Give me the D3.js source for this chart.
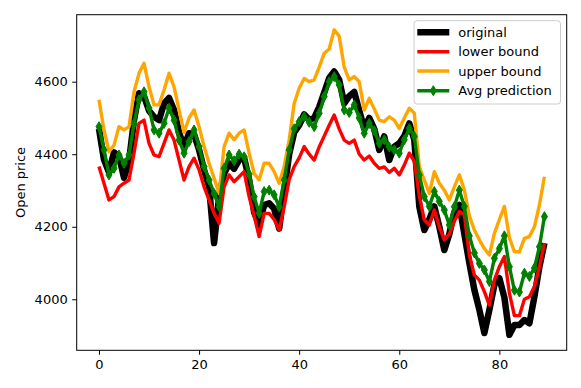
<!DOCTYPE html>
<html>
<head>
<meta charset="utf-8">
<script src="https://cdn.jsdelivr.net/npm/d3@7"></script>
<style>
  body { margin: 0; background: #fff; }
  svg { font-family: "DejaVu Sans", sans-serif; }
</style>
</head>
<body>
<div id="chart"></div>
<script>
// values, index 0..89
var original = [4470,4385,4350,4405,4395,4335,4380,4494,4568,4560,
  4520,4503,4494,4540,4555,4522,4460,4420,4458,4455,
  4412,4357,4310,4155,4283,4347,4375,4360,4384,4390,
  4330,4240,4205,4260,4265,4250,4195,4300,4400,4460,
  4480,4510,4495,4500,4530,4570,4610,4628,4605,4540,
  4560,4572,4520,4470,4500,4470,4412,4449,4384,4421,
  4430,4450,4485,4440,4256,4191,4220,4256,4200,4136,
  4180,4240,4260,4180,4100,4026,3971,3907,3971,4040,
  4058,4005,3902,3929,3929,3943,3934,4007,4090,4155];
var lower = [4366,4320,4274,4283,4310,4320,4329,4403,4485,4494,
  4430,4398,4393,4430,4467,4439,4384,4329,4366,4389,
  4357,4310,4274,4237,4210,4310,4343,4324,4338,4352,
  4283,4230,4173,4237,4237,4220,4191,4255,4330,4366,
  4390,4421,4400,4384,4420,4450,4480,4508,4470,4439,
  4430,4439,4400,4384,4395,4375,4361,4365,4350,4361,
  4343,4370,4403,4380,4285,4219,4205,4246,4200,4164,
  4180,4215,4242,4233,4122,4067,4053,4021,3984,4053,
  4090,4118,4017,3955,3955,4000,4007,4035,4090,4155];
var upper = [4550,4467,4407,4425,4476,4467,4476,4572,4623,4651,
  4586,4536,4536,4577,4623,4586,4522,4460,4500,4522,
  4476,4421,4375,4334,4292,4421,4458,4440,4458,4467,
  4403,4347,4329,4375,4375,4352,4320,4366,4439,4540,
  4582,4609,4600,4605,4640,4678,4690,4743,4725,4640,
  4605,4614,4600,4522,4554,4525,4494,4490,4503,4494,
  4471,4500,4527,4513,4366,4329,4292,4352,4320,4301,
  4274,4310,4343,4301,4230,4191,4164,4140,4122,4182,
  4220,4256,4170,4131,4131,4168,4173,4200,4260,4338];
var avg = [4476,4412,4343,4361,4398,4375,4398,4485,4550,4572,
  4527,4467,4458,4485,4527,4494,4439,4403,4435,4467,
  4421,4366,4329,4292,4255,4361,4398,4382,4400,4393,
  4345,4283,4237,4297,4301,4288,4255,4329,4412,4470,
  4490,4503,4488,4476,4513,4559,4600,4614,4591,4522,
  4515,4536,4500,4458,4485,4465,4430,4440,4420,4412,
  4403,4440,4471,4449,4343,4283,4256,4297,4270,4246,
  4205,4255,4301,4256,4175,4128,4099,4081,4049,4113,
  4140,4175,4090,4025,4020,4072,4063,4086,4145,4228];
var seriesNames = ["original", "lower bound", "upper bound", "Avg prediction"];
var xTicks = [0, 20, 40, 60, 80];
var yTicks = [4000, 4200, 4400, 4600];

var W = 581, H = 388;
var margin = {left: 76.7, top: 14.7, right: 14.3, bottom: 37.7};
var width = W - margin.left - margin.right;
var height = H - margin.top - margin.bottom;

var svg = d3.select("#chart").append("svg")
  .attr("width", W)
  .attr("height", H);
var g = svg.append("g")
  .attr("transform", "translate(" + margin.left + "," + margin.top + ")");

var x = d3.scaleLinear().domain([-4.45, 93.45]).range([0, width]);
var y = d3.scaleLinear().domain([3859.4, 4784.7]).range([height, 0]);

var line = d3.line()
  .x((d, i) => x(i))
  .y((d) => y(d));

var styles = [
  {data: original, color: "black", w: 6.5},
  {data: lower, color: "red", w: 3.4},
  {data: upper, color: "orange", w: 3.4},
  {data: avg, color: "green", w: 3.4}
];

styles.forEach((s) => {
  g.append("path")
    .datum(s.data)
    .attr("fill", "none")
    .attr("stroke", s.color)
    .attr("stroke-width", s.w)
    .attr("stroke-linejoin", "round")
    .attr("stroke-linecap", "butt")
    .attr("d", line);
});

// thin diamond markers
function thinDiamond(cx, cy, h) {
  var w = h * 0.6;
  return "M" + cx + "," + (cy - h / 2) + "L" + (cx + w / 2) + "," + cy +
    "L" + cx + "," + (cy + h / 2) + "L" + (cx - w / 2) + "," + cy + "Z";
}
g.selectAll(".marker").data(avg).enter()
  .append("path")
  .attr("class", "marker")
  .attr("d", (d, i) => thinDiamond(x(i), y(d), 10))
  .attr("fill", "green")
  .attr("stroke", "green")
  .attr("stroke-width", 1);

// axes
var xAxis = d3.axisBottom(x).tickValues(xTicks).tickSize(4.5).tickPadding(4.5);
var yAxis = d3.axisLeft(y).tickValues(yTicks).tickSize(4.5).tickPadding(4.5)
  .tickFormat(d3.format("d"));
var gx = g.append("g").attr("transform", "translate(0," + height + ")").call(xAxis);
var gy = g.append("g").call(yAxis);
[gx, gy].forEach((a) => {
  a.select(".domain").remove();
  a.selectAll("text").attr("font-size", "13px").attr("fill", "black")
    .attr("font-family", "DejaVu Sans");
  a.selectAll("line").attr("stroke", "black").attr("stroke-width", 1);
});

g.append("rect")
  .attr("width", width)
  .attr("height", height)
  .attr("fill", "none")
  .attr("stroke", "black")
  .attr("stroke-width", 1);

g.append("text")
  .attr("transform", "rotate(-90)")
  .attr("x", -height / 2)
  .attr("y", -52)
  .attr("text-anchor", "middle")
  .attr("font-size", "13px")
  .text("Open price");

// legend
var leg = svg.append("g").attr("transform", "translate(414,20.7)");
leg.append("rect")
  .attr("width", 146.5)
  .attr("height", 83.3)
  .attr("rx", 3)
  .attr("fill", "white")
  .attr("fill-opacity", 0.8)
  .attr("stroke", "#cccccc")
  .attr("stroke-width", 1);
var rowY = [11.6, 31, 50.3, 70];
styles.forEach((s, i) => {
  leg.append("line")
    .attr("x1", 3.3).attr("x2", 35.3)
    .attr("y1", rowY[i]).attr("y2", rowY[i])
    .attr("stroke", s.color)
    .attr("stroke-width", s.w);
  leg.append("text")
    .attr("x", 44.3)
    .attr("y", rowY[i] + 4.6)
    .attr("font-size", "13px")
    .text(seriesNames[i]);
});
leg.append("path")
  .attr("d", thinDiamond(19.3, rowY[3], 10))
  .attr("fill", "green")
  .attr("stroke", "green");
</script>
</body>
</html>
